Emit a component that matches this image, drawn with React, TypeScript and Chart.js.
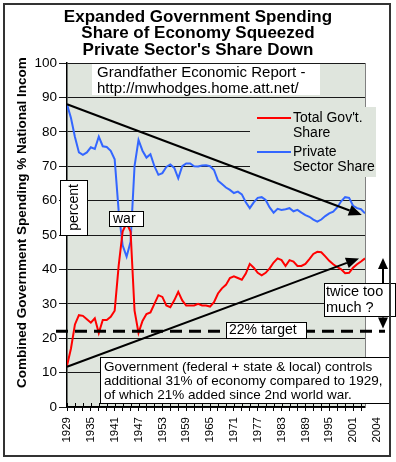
import React, { useEffect, useRef } from "react";
import { Chart, registerables } from "chart.js";

Chart.register(...registerables);

const years = [
  1929, 1930, 1931, 1932, 1933, 1934, 1935, 1936, 1937, 1938,
  1939, 1940, 1941, 1942, 1943, 1944, 1945, 1946, 1947, 1948,
  1949, 1950, 1951, 1952, 1953, 1954, 1955, 1956, 1957, 1958,
  1959, 1960, 1961, 1962, 1963, 1964, 1965, 1966, 1967, 1968,
  1969, 1970, 1971, 1972, 1973, 1974, 1975, 1976, 1977, 1978,
  1979, 1980, 1981, 1982, 1983, 1984, 1985, 1986, 1987, 1988,
  1989, 1990, 1991, 1992, 1993, 1994, 1995, 1996, 1997, 1998,
  1999, 2000, 2001, 2002, 2003, 2004,
];

const govShare = [
  12, 17, 24, 26.7, 26.5, 25.5, 24.5, 25.8, 21.5, 25.3,
  25.3, 26.2, 28, 41, 51, 53.5, 51, 28, 21.5, 25,
  27, 27.5, 30, 32.5, 32, 29.5, 29, 31, 33.5, 31,
  29.5, 29.5, 29.5, 30, 29.5, 29.5, 29.2, 30.5, 33, 34.5,
  35.5, 37.5, 38, 37.5, 37, 38.8, 41.6, 40.5, 39, 38.3,
  39, 40.3, 42, 43.2, 42.7, 41, 42.7, 42.3, 41, 41,
  41.6, 43, 44.5, 45.1, 45, 43.8, 42.5, 41.5, 40.7, 40,
  38.9, 39, 40.5, 41.5, 42.3, 43.2,
];

const privateShare = [
  88, 84, 78.5, 74, 73.3, 74, 75.5, 75, 78.6, 75.8,
  75.6, 74.5, 72, 57, 47, 43.7, 48, 70, 77.6, 74.5,
  72.5, 73.5, 70, 67.5, 68, 69.8, 70.5, 69.5, 66.5, 70,
  70.8, 70.8, 70, 69.9, 70.2, 70.3, 70, 68.9, 65.8, 64.8,
  63.8, 63.1, 62.2, 62.6, 61.8, 59.5, 57.8, 59.5, 60.8, 61,
  60.2, 58, 56.5, 57.6, 57.3, 57.5, 57.8, 56.9, 57.3, 56.5,
  55.8, 55.3, 54.5, 53.9, 54.5, 55.5, 56.3, 56.8, 58, 59.8,
  61, 60.8, 58.5, 57.8, 57.5, 56.3,
];

const xTickYears = [
  1929, 1931, 1933, 1935, 1937, 1939, 1941, 1943, 1945, 1947, 1949, 1951, 1953,
  1955, 1957, 1959, 1961, 1963, 1965, 1967, 1969, 1971, 1973, 1975, 1977, 1979,
  1981, 1983, 1985, 1987, 1989, 1991, 1993, 1995, 1997, 1999, 2001, 2003,
];
const xLabelYears = [1929, 1935, 1941, 1947, 1953, 1959, 1965, 1971, 1977, 1983, 1989, 1995, 2001];
const extraXLabel = "2004";

const seriesNames = ["Total Gov't. Share", "Private Sector Share"];
const legendLines = [["Total Gov't.", "Share"], ["Private", "Sector Share"]];
const seriesColors = ["#ff0000", "#3366ff"];

const titleLines = [
  "Expanded Government Spending",
  "Share of Economy Squeezed",
  "Private Sector's Share Down",
];
const yTitle = "Combined Government Spending % National Income";
const sourceLines = ["Grandfather Economic Report -", "http://mwhodges.home.att.net/"];
const noteLines = [
  "Government (federal + state & local) controls",
  "additional 31% of economy compared to 1929,",
  "of which 21% added since 2nd world war.",
];
const targetLabel = "22% target";
const twiceLines = ["twice too", "much ?"];
const warLabel = "war";
const percentLabel = "percent";

// annotation anchors in data units
const targetValue = 22;
const privateTrend = [[1929, 88], [2003.2, 55.8]];
const govTrend = [[1929, 11.7], [2002.5, 43.2]];
const twiceArrow = [43.3, 22.8];

const FONT = "'Liberation Sans', Arial, sans-serif";

function arrow(ctx: CanvasRenderingContext2D, x1: number, y1: number, x2: number, y2: number, head: number, half: number) {
  const ang = Math.atan2(y2 - y1, x2 - x1);
  const bx = x2 - head * Math.cos(ang);
  const by = y2 - head * Math.sin(ang);
  ctx.beginPath();
  ctx.moveTo(x1, y1);
  ctx.lineTo(bx, by);
  ctx.stroke();
  ctx.beginPath();
  ctx.moveTo(x2, y2);
  ctx.lineTo(bx + half * Math.sin(ang), by - half * Math.cos(ang));
  ctx.lineTo(bx - half * Math.sin(ang), by + half * Math.cos(ang));
  ctx.closePath();
  ctx.fill();
}

function box(ctx: CanvasRenderingContext2D, x: number, y: number, w: number, h: number, border: boolean) {
  ctx.fillStyle = "#ffffff";
  ctx.fillRect(x, y, w, h);
  if (border) {
    ctx.strokeStyle = "#000";
    ctx.lineWidth = 1;
    ctx.strokeRect(x + 0.5, y + 0.5, w, h);
  }
}

const decorPlugin = {
  id: "decor",
  beforeDraw(chart: any) {
    const { ctx, chartArea: a } = chart;
    ctx.save();
    ctx.fillStyle = "#ffffff";
    ctx.fillRect(0, 0, chart.width, chart.height);
    ctx.fillStyle = "#dfe5dd";
    ctx.fillRect(a.left, a.top, a.right - a.left, a.bottom - a.top);
    ctx.restore();
  },
  beforeDatasetsDraw(chart: any) {
    const { ctx, chartArea: a } = chart;
    ctx.save();
    // right border of plot
    ctx.strokeStyle = "#808080";
    ctx.lineWidth = 1;
    ctx.beginPath();
    ctx.moveTo(a.right + 0.5, a.top);
    ctx.lineTo(a.right + 0.5, a.bottom);
    ctx.stroke();
    // x tick marks inside the plot (cross style)
    const xs = chart.scales.x;
    ctx.strokeStyle = "#000";
    xs.ticks.forEach((t: any) => {
      const px = Math.round(xs.getPixelForValue(t.value)) + 0.5;
      ctx.beginPath();
      ctx.moveTo(px, a.bottom - 4);
      ctx.lineTo(px, a.bottom);
      ctx.stroke();
    });
    // legend background
    ctx.fillStyle = "#dfe5dd";
    ctx.fillRect(250, 107, 126, 70);
    ctx.restore();
  },
  afterDraw(chart: any) {
    const { ctx, chartArea: a } = chart;
    const xs = chart.scales.x;
    const ys = chart.scales.y;
    ctx.save();

    // legend
    ctx.font = `14px ${FONT}`;
    ctx.textBaseline = "middle";
    ctx.textAlign = "left";
    const legendY = [118, 152];
    legendLines.forEach((lines, i) => {
      ctx.strokeStyle = seriesColors[i];
      ctx.lineWidth = 2;
      ctx.beginPath();
      ctx.moveTo(257, legendY[i]);
      ctx.lineTo(291, legendY[i]);
      ctx.stroke();
      ctx.fillStyle = "#000";
      lines.forEach((l, j) => ctx.fillText(l, 293, legendY[i] + j * 15));
    });

    // trend arrows
    ctx.strokeStyle = "#000";
    ctx.fillStyle = "#000";
    ctx.lineWidth = 2;
    [privateTrend, govTrend].forEach((tr) => {
      arrow(
        ctx,
        xs.getPixelForValue(tr[0][0]), ys.getPixelForValue(tr[0][1]),
        xs.getPixelForValue(tr[1][0]), ys.getPixelForValue(tr[1][1]),
        13, 5.5
      );
    });

    // dashed 22% target line
    const ty = ys.getPixelForValue(targetValue);
    ctx.lineWidth = 3;
    ctx.setLineDash([12, 7]);
    ctx.beginPath();
    ctx.moveTo(a.left - 11, ty);
    ctx.lineTo(a.right + 20, ty);
    ctx.stroke();
    ctx.setLineDash([]);

    // vertical double arrow
    const vx = a.right + 18;
    const yTop = ys.getPixelForValue(twiceArrow[0]);
    const yBot = ys.getPixelForValue(twiceArrow[1]);
    const yMid = (yTop + yBot) / 2;
    ctx.lineWidth = 2;
    arrow(ctx, vx, yMid, vx, yTop, 11, 5);
    arrow(ctx, vx, yMid, vx, yBot, 11, 5);

    // text boxes
    ctx.textAlign = "left";
    ctx.textBaseline = "middle";

    box(ctx, 92, 64, 228, 31, false);
    ctx.fillStyle = "#000";
    ctx.font = `15px ${FONT}`;
    sourceLines.forEach((l, i) => ctx.fillText(l, 97, 73 + i * 15.5));

    box(ctx, 109, 211, 34, 15, true);
    ctx.fillStyle = "#000";
    ctx.font = `14px ${FONT}`;
    ctx.fillText(warLabel, 113, 219);

    box(ctx, 226, 322, 80, 16, true);
    ctx.fillStyle = "#000";
    ctx.font = `14px ${FONT}`;
    ctx.fillText(targetLabel, 229, 330.5);

    box(ctx, 324, 283, 71, 33, true);
    ctx.fillStyle = "#000";
    ctx.font = `14.5px ${FONT}`;
    twiceLines.forEach((l, i) => ctx.fillText(l, 326, 292 + i * 16));

    box(ctx, 100, 357, 290, 46, true);
    ctx.fillStyle = "#000";
    ctx.font = `13.5px ${FONT}`;
    noteLines.forEach((l, i) => ctx.fillText(l, 104, 367 + i * 14.2));

    box(ctx, 60, 180, 27, 55, true);
    ctx.save();
    ctx.translate(74, 207.5);
    ctx.rotate(-Math.PI / 2);
    ctx.textAlign = "center";
    ctx.fillStyle = "#000";
    ctx.font = `14px ${FONT}`;
    ctx.fillText(percentLabel, 0, 0);
    ctx.restore();

    // extra x label at the far end
    ctx.save();
    ctx.translate(xs.getPixelForValue(2004) + 12, a.bottom + 10);
    ctx.rotate(-Math.PI / 2);
    ctx.textAlign = "right";
    ctx.textBaseline = "middle";
    ctx.font = `11.5px ${FONT}`;
    ctx.fillStyle = "#000";
    ctx.fillText(extraXLabel, 0, 0);
    ctx.restore();

    // y axis title (clipped at top)
    ctx.save();
    ctx.beginPath();
    ctx.rect(0, 58, 60, 404);
    ctx.clip();
    ctx.translate(22, 388);
    ctx.rotate(-Math.PI / 2);
    ctx.textAlign = "left";
    ctx.textBaseline = "middle";
    ctx.font = `bold 13.5px ${FONT}`;
    ctx.fillStyle = "#000";
    ctx.fillText(yTitle, 0, 0);
    ctx.restore();

    // title
    ctx.textAlign = "center";
    ctx.textBaseline = "middle";
    ctx.font = `bold 17px ${FONT}`;
    ctx.fillStyle = "#000";
    titleLines.forEach((l, i) => ctx.fillText(l, 198, 17 + i * 16.7));

    // outer frame
    ctx.strokeStyle = "#333";
    ctx.lineWidth = 2;
    ctx.strokeRect(4, 4, 386, 452);

    ctx.restore();
  },
};

export default function App() {
  const ref = useRef<HTMLCanvasElement | null>(null);

  useEffect(() => {
    document.body.style.margin = "0";
    const canvas = ref.current;
    if (!canvas) return;
    const chart = new Chart(canvas, {
      type: "line",
      data: {
        datasets: [
          {
            label: seriesNames[0],
            data: years.map((y, i) => ({ x: y, y: govShare[i] })),
            borderColor: seriesColors[0],
            backgroundColor: seriesColors[0],
            borderWidth: 2,
            pointRadius: 0,
            tension: 0,
          },
          {
            label: seriesNames[1],
            data: years.map((y, i) => ({ x: y, y: privateShare[i] })),
            borderColor: seriesColors[1],
            backgroundColor: seriesColors[1],
            borderWidth: 2,
            pointRadius: 0,
            tension: 0,
          },
        ],
      },
      options: {
        responsive: false,
        animation: false,
        devicePixelRatio: 1,
        layout: { padding: { left: 0, right: 31, top: 63, bottom: 0 } },
        plugins: {
          legend: { display: false },
          title: { display: false },
          tooltip: { enabled: false },
        },
        scales: {
          x: {
            type: "linear",
            min: 1929,
            max: 2004,
            afterBuildTicks: (s: any) => {
              s.ticks = xTickYears.map((v) => ({ value: v }));
            },
            afterFit: (s: any) => {
              s.height = 55;
            },
            ticks: {
              autoSkip: false,
              minRotation: 90,
              maxRotation: 90,
              padding: 6,
              color: "#000",
              font: { family: FONT, size: 11.5 },
              callback: (v: any) => (xLabelYears.includes(Number(v)) ? String(v) : ""),
            },
            grid: {
              drawOnChartArea: false,
              tickLength: 4,
              color: "#000",
              lineWidth: 1,
            },
            border: { color: "#000", width: 1.5 },
          },
          y: {
            min: 0,
            max: 100,
            afterFit: (s: any) => {
              s.width = 67;
            },
            ticks: {
              stepSize: 10,
              padding: 2,
              color: "#000",
              font: { family: FONT, size: 13.5 },
            },
            grid: {
              color: "#1a1a1a",
              lineWidth: 1,
              tickLength: 8,
            },
            border: { color: "#000", width: 1.5 },
          },
        },
      },
      plugins: [decorPlugin],
    });
    return () => chart.destroy();
  }, []);

  return <canvas ref={ref} width={396} height={462} style={{ display: "block", width: 396, height: 462 }} />;
}
